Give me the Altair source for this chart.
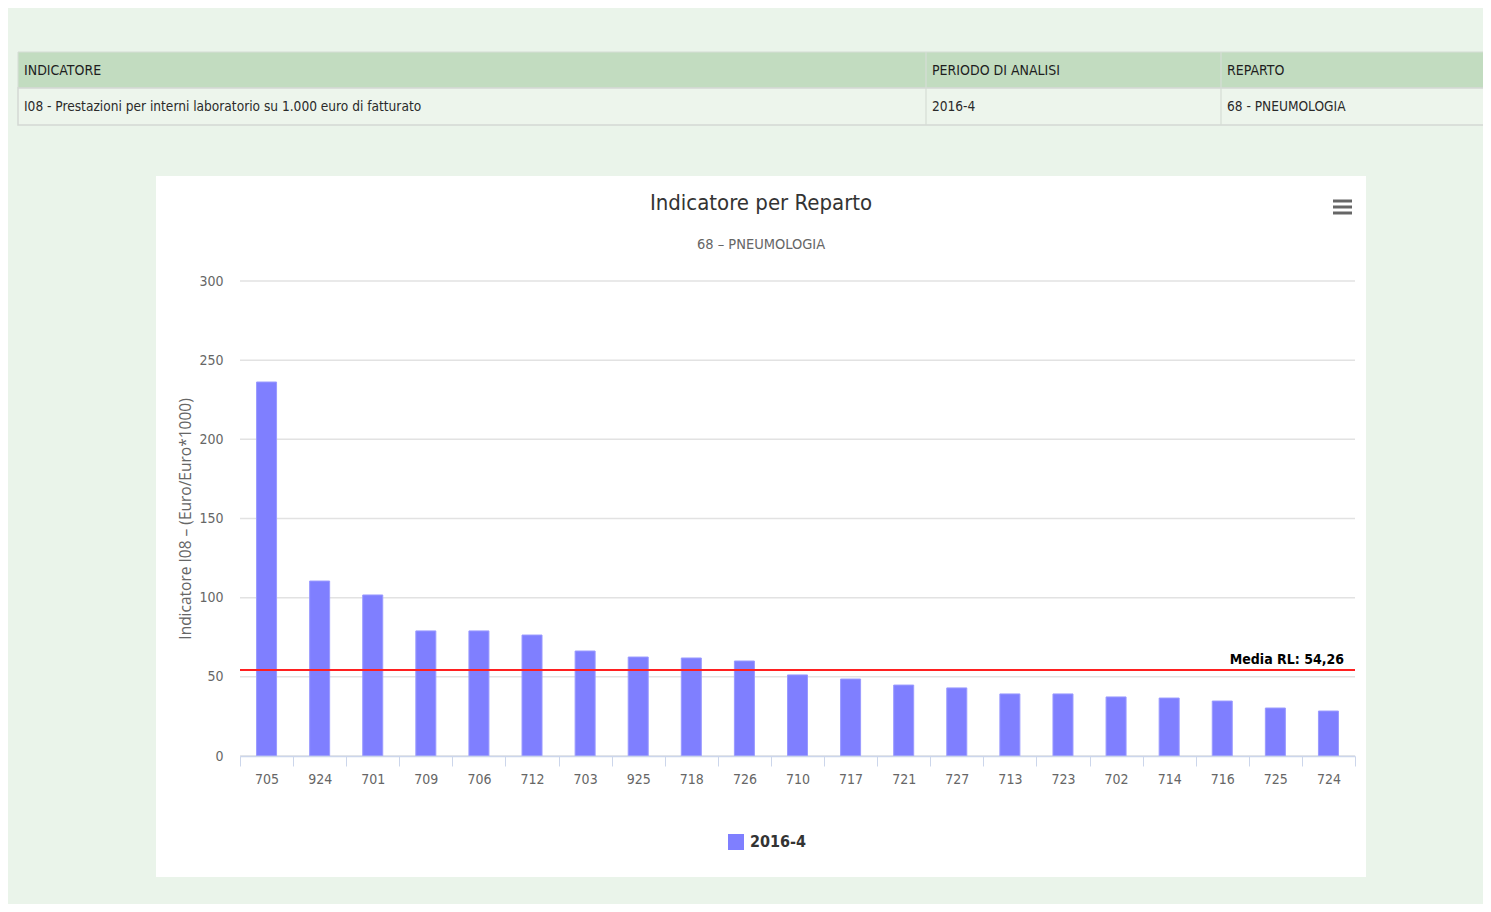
import altair as alt
import pandas as pd

# ---------------- data ----------------
reparti = ["705", "924", "701", "709", "706", "712", "703", "925", "718", "726", "710",
           "717", "721", "727", "713", "723", "702", "714", "716", "725", "724"]
valori = [236.2, 110.5, 101.7, 79.0, 79.0, 76.4, 66.3, 62.5, 61.9, 60.0, 51.2,
          48.6, 44.8, 43.0, 39.2, 39.2, 37.3, 36.6, 34.7, 30.3, 28.4]
serie = "2016-4"
media_rl = 54.26
y_ticks = [0, 50, 100, 150, 200, 250, 300]

header_labels = ["INDICATORE", "PERIODO DI ANALISI", "REPARTO"]
row_labels = ["I08 - Prestazioni per interni laboratorio su 1.000 euro di fatturato",
              "2016-4", "68 - PNEUMOLOGIA"]
titolo = "Indicatore per Reparto"
sottotitolo = "68 – PNEUMOLOGIA"
y_title = "Indicatore I08 – (Euro/Euro*1000)"
media_label = "Media RL: 54,26"

NARROW = "Liberation Sans Narrow, DejaVu Sans Condensed, Arial Narrow, sans-serif"

df = pd.DataFrame({"reparto": reparti, "valore": valori, "serie": [serie] * len(reparti)})
one = pd.DataFrame({"k": [0]})
grid_df = pd.DataFrame({"valore": y_ticks})

# ---------------- decorations ----------------
white_box = alt.Chart(one).mark_rect(fill="white").encode(
    x=alt.value(-84), x2=alt.value(1126), y=alt.value(-105), y2=alt.value(596))

table_header = alt.Chart(one).mark_rect(fill="#c2dcc0", stroke="#d5ddd5", strokeWidth=1).encode(
    x=alt.value(-222), x2=alt.value(1260), y=alt.value(-229), y2=alt.value(-193))
table_row = alt.Chart(one).mark_rect(fill="#edf5ec", stroke="#d3d8d3", strokeWidth=1.5).encode(
    x=alt.value(-222), x2=alt.value(1260), y=alt.value(-193), y2=alt.value(-156))

seps = []
for xs in (686, 981):
    seps.append(alt.Chart(one).mark_rule(color="#d6ddd6", strokeWidth=1.2).encode(
        x=alt.value(xs), y=alt.value(-229), y2=alt.value(-156)))

col_x = [-216, 692, 987]
table_texts = []
for lab, xs in zip(header_labels, col_x):
    table_texts.append(alt.Chart(one).mark_text(
        align="left", baseline="middle", font=NARROW, fontSize=14, color="#1e1e1e"
    ).encode(x=alt.value(xs), y=alt.value(-210), text=alt.value(lab)))
for lab, xs in zip(row_labels, col_x):
    table_texts.append(alt.Chart(one).mark_text(
        align="left", baseline="middle", font=NARROW, fontSize=13.6, color="#2a2a2a"
    ).encode(x=alt.value(xs), y=alt.value(-174), text=alt.value(lab)))

title_mark = alt.Chart(one).mark_text(
    align="center", baseline="middle", font=NARROW, fontSize=22, color="#333333"
).encode(x=alt.value(521), y=alt.value(-78), text=alt.value(titolo))
subtitle_mark = alt.Chart(one).mark_text(
    align="center", baseline="middle", font=NARROW, fontSize=14.5, color="#666666"
).encode(x=alt.value(521), y=alt.value(-36), text=alt.value(sottotitolo))

burger = []
for yy in (-80, -74, -68):
    burger.append(alt.Chart(one).mark_rule(color="#666666", strokeWidth=3).encode(
        x=alt.value(1093), x2=alt.value(1112), y=alt.value(yy)))

# ---------------- chart ----------------
y_axis = alt.Axis(values=y_ticks, grid=False, domain=False, ticks=False,
                  labelPadding=17, labelColor="#666666", labelFontSize=14,
                  labelFont=NARROW, title=y_title, titleX=-55, titleY=237.5,
                  titleAngle=270, titleBaseline="middle", titleAlign="center",
                  titleColor="#666666", titleFont="Open Sans", titleFontSize=15.5,
                  titleFontWeight="normal", zindex=1)
y_scale = alt.Scale(domain=[0, 300], nice=False)

grid = alt.Chart(grid_df).mark_rule(color="#e2e2e2", strokeWidth=1.5).encode(
    y=alt.Y("valore:Q", scale=y_scale, axis=y_axis))

bars = alt.Chart(df).mark_bar(width=20, stroke="#9a9aff", strokeWidth=1).encode(
    x=alt.X("reparto:N", sort=reparti,
            scale=alt.Scale(paddingInner=0, paddingOuter=0),
            axis=alt.Axis(title=None, labelAngle=0, tickBand="extent", tickSize=10,
                          tickColor="#ccd6eb", domainColor="#ccd6eb", domainWidth=1.5,
                          labelColor="#666666", labelFontSize=14, labelFont=NARROW,
                          labelPadding=6, grid=False, zindex=1)),
    y=alt.Y("valore:Q", scale=y_scale, axis=y_axis),
    color=alt.Color("serie:N", scale=alt.Scale(range=["#7f7fff"]),
                    legend=alt.Legend(orient="none", legendX=488, legendY=553, title=None,
                                      symbolType="square", symbolSize=256,
                                      symbolStrokeWidth=0, symbolOpacity=1,
                                      labelFont=NARROW, labelFontSize=16,
                                      labelFontWeight="bold", labelColor="#333333",
                                      labelOffset=6)),
)

media_line = alt.Chart(one).mark_rule(color="#ff2020", strokeWidth=2).encode(
    y=alt.datum(media_rl))
media_text = alt.Chart(one).mark_text(
    align="right", baseline="middle", font=NARROW, fontSize=14, fontWeight="bold",
    color="#000000"
).encode(x=alt.value(1104), y=alt.value(379), text=alt.value(media_label))

chart = alt.layer(
    white_box, table_header, table_row, *seps, *table_texts,
    title_mark, subtitle_mark, *burger,
    grid, bars, media_line, media_text,
).properties(
    width=1115, height=475,
    background="#eaf4ea",
    padding={"left": 232, "top": 273, "right": 128, "bottom": 148},
    autosize=alt.AutoSizeParams(type="none"),
).configure_view(stroke=None)

chart.save("out.html", embed_options={"renderer": "svg", "actions": False})
